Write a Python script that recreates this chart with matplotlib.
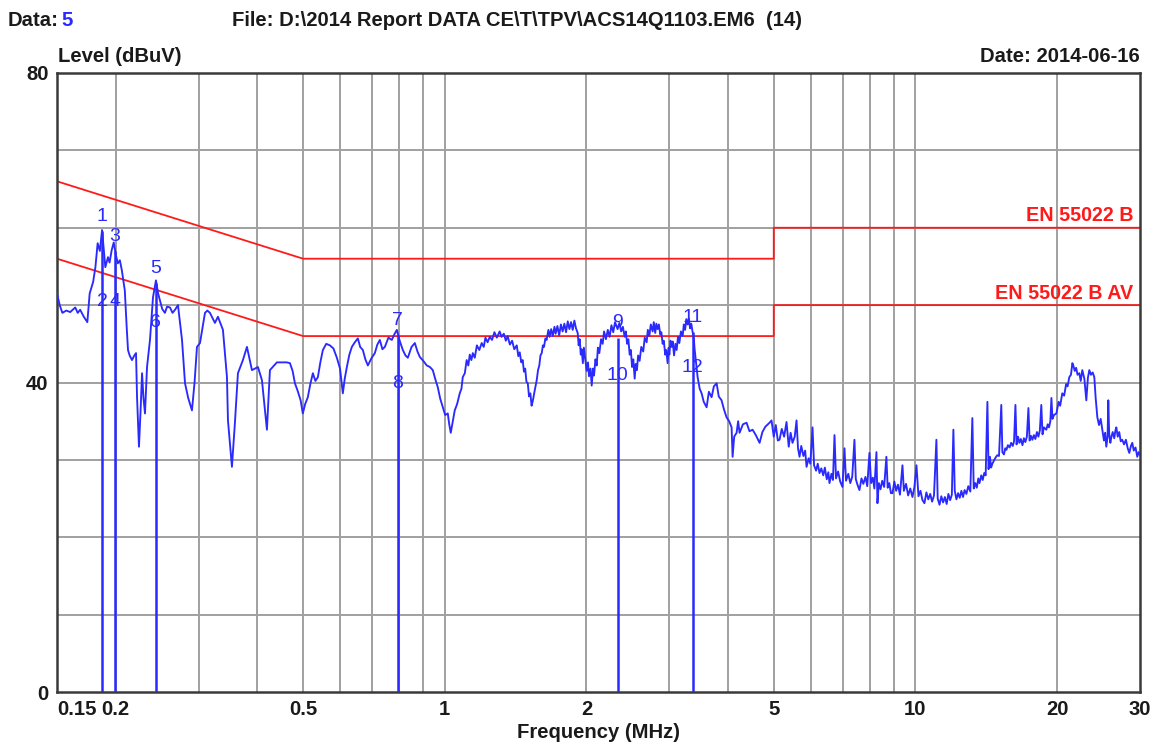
import matplotlib
matplotlib.use("Agg")
import matplotlib.pyplot as plt
import numpy as np

plt.rcParams["font.family"] = ["Liberation Sans", "DejaVu Sans"]

# measured trace, 0.15 - 0.5 MHz
freq_a = [0.150, 0.152, 0.154, 0.157, 0.160, 0.164, 0.166, 0.168, 0.171, 0.174,
          0.176, 0.179, 0.181, 0.183, 0.185, 0.187, 0.189, 0.190, 0.1925, 0.194,
          0.196, 0.198, 0.200, 0.202, 0.204, 0.206, 0.209, 0.211, 0.2123, 0.214,
          0.2165, 0.219, 0.2208, 0.2219, 0.224, 0.226, 0.2274, 0.229, 0.2307, 0.233,
          0.2364, 0.2399, 0.2434, 0.246, 0.2482, 0.251, 0.2543, 0.257, 0.2607, 0.264,
          0.2672, 0.2711, 0.2765, 0.2806, 0.285, 0.2903, 0.294, 0.2975, 0.3019, 0.3094,
          0.313, 0.3170, 0.3248, 0.3296, 0.3378, 0.3445, 0.3462, 0.3530, 0.3582, 0.3635,
          0.3725, 0.3799, 0.3893, 0.4009, 0.4088, 0.4189, 0.4251, 0.4398, 0.4619]
level_a = [51.5, 50.0, 49.0, 49.3, 49.1, 49.7, 49.0, 49.4, 48.5, 47.8,
           51.5, 53.0, 54.9, 58.0, 57.0, 59.7, 56.5, 54.9, 56.2, 55.5,
           57.1, 58.1, 56.5, 55.4, 55.8, 54.5, 51.9, 47.0, 44.2, 43.5,
           42.9, 43.5, 43.8, 38.1, 31.7, 37.0, 41.2, 38.0, 36.0, 42.0,
           45.5, 51.0, 53.2, 51.5, 50.6, 49.5, 49.0, 49.8, 49.7, 49.0,
           49.4, 50.0, 45.5, 39.9, 38.0, 36.4, 40.0, 44.6, 45.1, 49.0,
           49.3, 49.0, 47.7, 48.5, 46.8, 40.7, 35.1, 29.1, 34.8, 41.2,
           42.9, 44.6, 41.6, 42.0, 40.3, 33.9, 41.6, 42.6, 42.6]

# 0.5 - 1.65 MHz
freq_b = [0.4688, 0.4750, 0.4804, 0.4870, 0.4940, 0.4993, 0.5050, 0.5117, 0.5180, 0.5245,
          0.5310, 0.5375, 0.5440, 0.5508, 0.5600, 0.5700, 0.5800, 0.5898, 0.5990, 0.6073,
          0.6130, 0.6194, 0.6270, 0.6347, 0.6440, 0.6536, 0.6610, 0.6698, 0.6780, 0.6864,
          0.6980, 0.7102, 0.7190, 0.7278, 0.7370, 0.7459, 0.7590, 0.7718, 0.7810, 0.7909,
          0.8020, 0.8144, 0.8250, 0.8346, 0.8500, 0.8637, 0.8750, 0.8851, 0.9000, 0.9158,
          0.9300, 0.9430, 0.9550, 0.9663, 0.9780, 0.9903, 1.0020, 1.0148, 1.0220, 1.0297,
          1.0400, 1.050, 1.062, 1.076, 1.085, 1.092, 1.103, 1.113, 1.122, 1.130,
          1.139, 1.147, 1.158, 1.170, 1.184, 1.198, 1.210, 1.220, 1.233, 1.246,
          1.260, 1.275, 1.290, 1.308, 1.320, 1.335, 1.348, 1.360, 1.375, 1.390,
          1.405, 1.422, 1.433, 1.443, 1.454, 1.464, 1.473, 1.482, 1.491, 1.501,
          1.510, 1.520, 1.529, 1.538, 1.553, 1.568, 1.578, 1.588, 1.597, 1.607,
          1.616, 1.625, 1.636]
level_b = [42.5, 41.5, 39.9, 38.9, 37.7, 36.0, 37.2, 38.1, 39.8, 41.2,
           40.2, 40.7, 42.6, 44.2, 45.0, 44.8, 44.4, 43.2, 41.8, 38.6,
           40.5, 42.0, 43.6, 44.6, 45.2, 45.7, 44.6, 44.2, 43.0, 42.2,
           43.1, 43.8, 44.9, 45.5, 44.3, 44.6, 45.8, 45.5, 46.2, 46.8,
           45.4, 44.2, 43.5, 43.2, 44.6, 45.1, 44.0, 43.3, 42.8, 42.2,
           42.0, 41.6, 40.4, 39.4, 37.9, 36.8, 35.8, 36.0, 34.6, 33.5,
           35.0, 36.4, 37.2, 38.6, 39.2, 40.7, 41.2, 42.9, 42.2, 43.6,
           42.9, 43.8, 43.2, 44.8, 44.2, 45.1, 44.6, 45.8, 45.2, 45.9,
           45.5, 46.5, 45.8, 46.6, 45.9, 46.3, 45.4, 46.0, 44.9, 45.4,
           44.3, 44.8, 43.4, 43.9, 42.6, 42.9, 41.4, 41.8, 40.1, 39.9,
           38.2, 38.6, 37.0, 37.6, 39.0, 40.3, 41.6, 42.2, 43.5, 43.8,
           44.8, 44.6, 45.7]

# 1.65 - 5 MHz
freq_c = [1.646, 1.66, 1.67, 1.683, 1.696, 1.71, 1.72, 1.735, 1.75, 1.765,
          1.780, 1.795, 1.81, 1.825, 1.84, 1.855, 1.870, 1.885, 1.90, 1.916,
          1.925, 1.935, 1.945, 1.954, 1.965, 1.975, 1.99, 2.002, 2.015, 2.025,
          2.04, 2.052, 2.065, 2.075, 2.09, 2.103, 2.115, 2.13, 2.148, 2.165,
          2.18, 2.20, 2.22, 2.240, 2.26, 2.28, 2.30, 2.329, 2.35, 2.37,
          2.39, 2.411, 2.425, 2.44, 2.455, 2.471, 2.485, 2.50, 2.515, 2.532,
          2.545, 2.56, 2.575, 2.594, 2.615, 2.64, 2.66, 2.685, 2.70, 2.72,
          2.74, 2.765, 2.78, 2.80, 2.815, 2.833, 2.85, 2.87, 2.885, 2.903,
          2.92, 2.94, 2.955, 2.975, 2.99, 3.00, 3.017, 3.034, 3.05, 3.07,
          3.09, 3.109, 3.13, 3.15, 3.175, 3.202, 3.22, 3.24, 3.26, 3.281,
          3.30, 3.32, 3.34, 3.362, 3.38, 3.395, 3.445, 3.48, 3.513, 3.55,
          3.600, 3.64, 3.689, 3.73, 3.781, 3.82, 3.873, 3.92, 3.969, 4.02,
          4.068, 4.088, 4.12, 4.169, 4.20, 4.230, 4.30, 4.377, 4.44, 4.508,
          4.58, 4.665, 4.73, 4.80, 4.898, 4.946]
level_c = [45.5, 46.8, 45.9, 46.9, 46.0, 47.2, 46.3, 47.3, 46.1, 47.5,
           46.6, 47.6, 46.5, 47.9, 46.9, 47.8, 46.8, 48.0, 47.0, 46.4,
           44.8, 45.6, 43.6, 44.3, 42.5, 44.5, 42.8, 41.5, 42.6, 40.8,
           41.8, 39.6, 41.8, 40.9, 43.0, 42.2, 44.5, 43.8, 45.6, 45.0,
           46.6, 45.6, 46.8, 45.9, 47.4, 46.5, 47.8, 46.9, 47.7, 46.6,
           47.2, 45.9, 46.6, 45.0, 45.6, 43.6, 44.2, 42.0, 43.0, 40.5,
           42.4, 41.6, 43.5, 42.8, 44.6, 44.0, 45.8, 45.2, 46.8, 46.0,
           47.5, 46.6, 47.8, 46.4, 47.6, 46.9, 47.5, 46.2, 46.5, 45.0,
           45.4, 43.6, 44.2, 42.5, 44.5, 43.6, 45.4, 44.6, 45.3, 43.5,
           45.0, 44.2, 45.9, 45.1, 46.6, 46.0, 47.5, 46.8, 48.2, 47.5,
           48.3, 47.0, 47.6, 46.5, 45.8, 44.3, 40.7, 39.2, 38.6, 37.5,
           36.8, 38.8, 38.1, 39.5, 39.9, 38.2, 37.7, 36.5, 35.5, 35.0,
           34.2, 30.4, 33.0, 33.5, 35.0, 33.5, 34.6, 34.8, 33.7, 33.9,
           33.2, 32.2, 33.6, 34.3, 34.8, 35.1]

# 5 - 10.5 MHz
freq_d = [5.00, 5.05, 5.10, 5.143, 5.20, 5.26, 5.322, 5.38, 5.43, 5.481,
          5.54, 5.589, 5.63, 5.672, 5.72, 5.78, 5.83, 5.870, 5.93, 5.98,
          6.044, 6.09, 6.15, 6.20, 6.254, 6.31, 6.37, 6.42, 6.48, 6.53,
          6.567, 6.63, 6.68, 6.730, 6.78, 6.85, 6.92, 6.998, 7.067, 7.12,
          7.20, 7.27, 7.34, 7.420, 7.47, 7.53, 7.603, 7.68, 7.75, 7.83,
          7.90, 7.985, 8.05, 8.12, 8.18, 8.263, 8.304, 8.36, 8.43, 8.50,
          8.58, 8.675, 8.73, 8.80, 8.87, 8.939, 9.02, 9.10, 9.18, 9.27,
          9.385, 9.45, 9.55, 9.65, 9.75, 9.855, 9.95, 10.05, 10.15, 10.25,
          10.35, 10.45]
level_d = [33.0, 34.5, 32.5, 32.6, 34.0, 33.0, 34.9, 31.7, 33.5, 32.2,
           33.0, 35.1, 31.5, 30.4, 31.8, 30.5, 31.2, 29.1, 30.2, 29.5,
           34.2, 29.3, 28.6, 29.5, 28.3, 28.9, 28.0, 29.0, 27.5, 28.4,
           27.0, 28.2, 27.4, 33.2, 27.6, 28.5, 27.2, 26.5, 31.5, 27.3,
           28.2, 27.0, 27.8, 32.6, 27.5, 26.8, 26.1, 27.6, 26.9, 27.8,
           26.6, 30.9, 27.0, 27.7, 26.3, 31.0, 24.4, 27.0, 26.2, 27.3,
           26.5, 30.4, 26.4, 27.0, 25.7, 25.7, 27.2, 26.0, 26.8, 25.5,
           29.3, 26.0, 26.9, 25.4, 26.3, 25.2, 26.5, 29.3, 25.3, 26.0,
           24.8, 24.4]

# 10.5 - 30 MHz
freq_e = [10.55, 10.65, 10.75, 10.85, 10.95, 11.08, 11.15, 11.25, 11.35, 11.45,
          11.55, 11.65, 11.75, 11.85, 11.95, 12.04, 12.12, 12.22, 12.32, 12.42,
          12.52, 12.62, 12.72, 12.83, 12.95, 13.08, 13.21, 13.30, 13.40, 13.50,
          13.60, 13.68, 13.80, 13.90, 14.00, 14.10, 14.22, 14.30, 14.40, 14.48,
          14.57, 14.68, 14.80, 14.92, 15.05, 15.22, 15.30, 15.42, 15.52, 15.61,
          15.72, 15.85, 15.97, 16.10, 16.20, 16.31, 16.40, 16.52, 16.63, 16.75,
          16.88, 17.00, 17.12, 17.25, 17.38, 17.48, 17.60, 17.72, 17.85, 17.98,
          18.12, 18.25, 18.38, 18.51, 18.62, 18.75, 18.97, 19.10, 19.22, 19.35,
          19.45, 19.55, 19.70, 19.93, 20.15, 20.30, 20.51, 20.70, 20.90, 21.05,
          21.23, 21.40, 21.55, 21.65, 21.80, 21.95, 22.10, 22.29, 22.45, 22.62,
          22.85, 23.07, 23.25, 23.41, 23.60, 23.80, 23.99, 24.15, 24.35, 24.55,
          24.75, 24.95, 25.15, 25.30, 25.44, 25.60, 25.69, 25.80, 25.95, 26.07,
          26.25, 26.45, 26.60, 26.72, 26.90, 27.10, 27.30, 27.50, 27.75, 28.00,
          28.25, 28.47, 28.70, 28.89, 29.10, 29.35, 29.60, 29.80, 30.00]
level_e = [25.8, 24.9, 25.6, 24.6, 25.4, 32.6, 25.0, 24.2, 25.3, 24.5,
           25.2, 24.3, 25.6, 24.8, 25.5, 33.9, 26.0, 24.9, 25.7, 25.1,
           26.0, 25.2, 26.1, 25.6, 26.6, 25.9, 35.4, 26.3, 27.0, 26.4,
           27.6, 27.0, 28.0, 27.4, 28.3, 28.0, 37.5, 28.8, 30.4, 29.0,
           29.5, 29.9, 30.3, 30.6, 30.5, 37.1, 31.0, 30.7, 31.5, 31.3,
           31.9, 31.6, 32.2, 31.8, 32.4, 37.1, 32.0, 33.0, 32.2, 32.7,
           31.9, 32.8, 32.3, 33.0, 36.7, 32.5, 33.1, 32.6, 33.2, 32.7,
           33.6, 33.0, 33.8, 37.1, 33.3, 34.2, 33.9, 34.6, 34.2, 35.0,
           38.0, 35.3, 35.8, 36.0, 37.5, 37.0, 38.6, 38.3, 39.8, 39.5,
           40.7, 41.0, 42.5, 42.2, 41.5, 41.9, 41.0, 41.2, 40.2, 41.6,
           40.5, 37.7, 40.6, 41.6, 41.0, 41.3, 40.7, 38.0, 35.5, 34.5,
           35.3, 33.9, 32.5, 33.5, 31.7, 33.0, 37.7, 33.4, 32.2, 32.9,
           33.6, 32.8, 33.8, 34.2, 33.0, 33.6, 32.4, 32.6, 32.0, 32.6,
           31.5, 30.9, 31.8, 32.2, 31.2, 31.6, 30.4, 31.0, 30.6]

# EN 55022 B limits
qp_freq = [0.15, 0.5, 5.0, 5.0, 30.0]
qp_level = [66.0, 56.0, 56.0, 60.0, 60.0]
av_freq = [0.15, 0.5, 5.0, 5.0, 30.0]
av_level = [56.0, 46.0, 46.0, 50.0, 50.0]

# markers (numbers, frequencies, levels)
mk_num = ["1", "2", "3", "4", "5", "6", "7", "8", "9", "10", "11", "12"]
mk_freq = [0.187, 0.187, 0.199, 0.199, 0.243, 0.243, 0.795, 0.795, 2.33, 2.33, 3.36, 3.36]
mk_level = [60.4, 49.4, 57.8, 49.4, 53.6, 46.6, 46.9, 38.8, 46.6, 39.8, 47.3, 40.8]

xtick_vals = [0.15, 0.2, 0.5, 1, 2, 5, 10, 20, 30]
xtick_text = ["0.15", "0.2", "0.5", "1", "2", "5", "10", "20", "30"]
xgrid = [0.2, 0.3, 0.4, 0.5, 0.6, 0.7, 0.8, 0.9, 1, 2, 3, 4, 5, 6, 7, 8, 9, 10, 20]

freq = np.concatenate([freq_a, freq_b, freq_c, freq_d, freq_e])
level = np.concatenate([level_a, level_b, level_c, level_d, level_e])

W, H = 1157, 742
fig = plt.figure(figsize=(W / 100, H / 100), dpi=100)
ax = fig.add_axes([57 / W, 1 - 692 / H, (1140 - 57) / W, (692 - 73) / H])

blue = "#2a2aff"
red = "#ff1a1a"
dark = "#1a1a1a"
fs = 14.6

ax.set_xscale("log")
ax.set_xlim(0.15, 30)
ax.set_ylim(0, 80)

# grid
for g in xgrid:
    ax.axvline(g, color="#a0a0a0", lw=1.4, zorder=0)
for g in range(10, 80, 10):
    ax.axhline(g, color="#a0a0a0", lw=1.4, zorder=0)

ax.plot(qp_freq, qp_level, color=red, lw=1.3, zorder=2)
ax.plot(av_freq, av_level, color=red, lw=1.3, zorder=2)
ax.plot(freq, level, color=blue, lw=1.35, zorder=3)

# marker lines and numbers
top = {}
for f, l in zip(mk_freq, mk_level):
    top[f] = max(top.get(f, 0), l)
ax.vlines(list(top.keys()), 0, [v - 0.8 for v in top.values()], color=blue, lw=1.8, zorder=3)
for n, f, l in zip(mk_num, mk_freq, mk_level):
    ax.text(f, l, n, color=blue, fontsize=14, ha="center", va="bottom", zorder=4)

ax.text(29.0, 60.3, "EN 55022 B", color=red, fontsize=14.2, fontweight="bold",
        ha="right", va="bottom")
ax.text(29.0, 50.3, "EN 55022 B AV", color=red, fontsize=14.2, fontweight="bold",
        ha="right", va="bottom")

ax.set_xticks(xtick_vals)
ax.set_xticklabels(xtick_text)
ax.xaxis.set_minor_locator(matplotlib.ticker.NullLocator())
ax.set_yticks([0, 40, 80])
ax.tick_params(length=0, labelsize=fs, pad=6, colors=dark)
for lab in ax.get_xticklabels() + ax.get_yticklabels():
    lab.set_fontweight("bold")
ax.get_xticklabels()[0].set_ha("left")

for s in ax.spines.values():
    s.set_color("#3a3a3a")
    s.set_linewidth(1.8)

ax.set_xlabel("Frequency (MHz)", fontsize=fs, fontweight="bold", color=dark, labelpad=3)

fig.text(8 / W, 1 - 20 / H, "Data:", fontsize=fs, fontweight="bold", color=dark, va="center")
fig.text(61 / W, 1 - 20 / H, "5", fontsize=fs, fontweight="bold", color=blue, va="center")
fig.text(232 / W, 1 - 20 / H, "File: D:\\2014 Report DATA CE\\T\\TPV\\ACS14Q1103.EM6  (14)",
         fontsize=fs, fontweight="bold", color=dark, va="center")
fig.text(58 / W, 1 - 57 / H, "Level (dBuV)", fontsize=fs, fontweight="bold", color=dark, va="center")
fig.text(1140 / W, 1 - 57 / H, "Date: 2014-06-16", fontsize=fs, fontweight="bold", color=dark,
         va="center", ha="right")

fig.savefig("out.png", dpi=100, facecolor="white")
